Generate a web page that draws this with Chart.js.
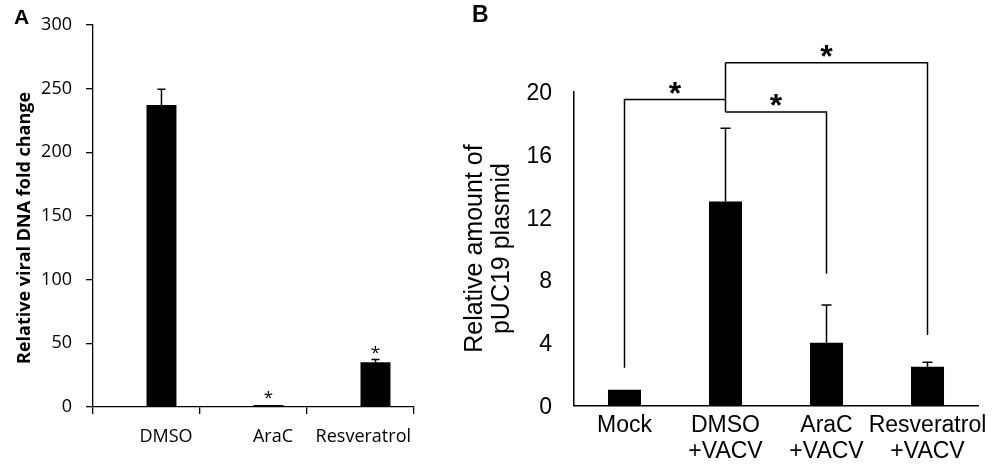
<!DOCTYPE html>
<html>
<head>
<meta charset="utf-8">
<script src="https://cdn.jsdelivr.net/npm/chart.js@4.4.1/dist/chart.umd.min.js"></script>
<style>
html, body { margin: 0; padding: 0; background: #fff; }
#page { position: relative; width: 1000px; height: 469px; overflow: hidden; }
.panel { position: absolute; top: 0; height: 469px; }
#panelA { left: 0; width: 450px; }
#panelB { left: 450px; width: 550px; }
.tag { position: absolute; font-family: 'Liberation Sans', Arial, sans-serif; font-weight: bold; color: #000; line-height: 1; }
</style>
</head>
<body>
<div id="page">
  <div class="panel" id="panelA"><canvas id="chartA"></canvas></div>
  <div class="panel" id="panelB"><canvas id="chartB"></canvas></div>
  <div class="tag" style="left:14px; top:6px; font-size:21px;">A</div>
  <div class="tag" style="left:472px; top:3px; font-size:23px;">B</div>
</div>
<script>
// --- panel A data ---
const treatmentsA = ['DMSO', 'AraC', 'Resveratrol'];
const foldChange = [237, 1.5, 35.2];
const foldChangeErr = [12.4, 0, 2];
const starsA = ['', '*', '*'];
const ticksA = [0, 50, 100, 150, 200, 250, 300];

// --- panel B data ---
const treatmentsB = [['Mock'], ['DMSO', '+VACV'], ['AraC', '+VACV'], ['Resveratrol', '+VACV']];
const plasmid = [1.0, 13.0, 4.0, 2.47];
const plasmidErr = [0, 4.67, 2.4, 0.28];
const ticksB = [0, 4, 8, 12, 16, 20];
// significance brackets (all against DMSO+VACV), in axis units
const brackets = [
  { from: 1, to: 0, level: 19.5, foot: 2.4 },
  { from: 1, to: 2, level: 18.7, foot: 8.4 },
  { from: 1, to: 3, level: 21.85, foot: 4.5 }
];

Chart.defaults.color = '#000';
Chart.defaults.animation = false;

// error bars: line up from the bar top with a cap
const errorBarPlugin = {
  id: 'errorBars',
  afterDatasetsDraw(chart, args, opts) {
    const { ctx } = chart;
    const y = chart.scales.y;
    chart.data.datasets.forEach((ds, di) => {
      if (!ds.errors) return;
      const meta = chart.getDatasetMeta(di);
      meta.data.forEach((bar, i) => {
        const err = ds.errors[i];
        if (!err) return;
        const top = y.getPixelForValue(ds.data[i] + err);
        ctx.save();
        ctx.strokeStyle = '#000';
        ctx.lineWidth = opts.lineWidth;
        ctx.beginPath();
        ctx.moveTo(bar.x, bar.y);
        ctx.lineTo(bar.x, top);
        ctx.moveTo(bar.x - opts.cap / 2, top);
        ctx.lineTo(bar.x + opts.cap / 2, top);
        ctx.stroke();
        ctx.restore();
      });
    });
  }
};

// panel A: category labels sit under the bars, stars, rotated title
const panelAText = {
  id: 'panelAText',
  afterDraw(chart) {
    const { ctx, chartArea } = chart;
    const x = chart.scales.x, y = chart.scales.y;
    const meta = chart.getDatasetMeta(1);
    ctx.save();
    ctx.fillStyle = '#000';
    ctx.font = '18px "Open Sans"';
    ctx.textAlign = 'center';
    ctx.textBaseline = 'middle';
    treatmentsA.forEach((t, i) => {
      const w = ctx.measureText(t).width;
      let cx = x.getPixelForValue(i) + 19.5;
      cx = Math.min(cx, chartArea.right - 3 - w / 2);
      ctx.fillText(t, cx, chartArea.bottom + 30);
    });
    ctx.font = '17px "Open Sans"';
    ctx.textBaseline = 'alphabetic';
    starsA.forEach((s, i) => {
      if (!s) return;
      const top = y.getPixelForValue(foldChange[i] + foldChangeErr[i]);
      ctx.fillText(s, meta.data[i].x, top - 2);
    });
    ctx.font = 'bold 18px "Open Sans"';
    ctx.translate(25, (chartArea.top + chartArea.bottom) / 2 + 12);
    ctx.rotate(-Math.PI / 2);
    ctx.textBaseline = 'middle';
    ctx.fillText('Relative viral DNA fold change', 0, 0);
    ctx.restore();
  }
};

// panel B: brackets with stars above the plot
const bracketPlugin = {
  id: 'brackets',
  afterDraw(chart) {
    const { ctx } = chart;
    const x = chart.scales.x, y = chart.scales.y;
    ctx.save();
    ctx.strokeStyle = '#000';
    ctx.fillStyle = '#000';
    ctx.lineWidth = 1.5;
    ctx.font = 'bold 32px "Liberation Sans"';
    ctx.textAlign = 'center';
    ctx.textBaseline = 'alphabetic';
    brackets.forEach(b => {
      const x1 = x.getPixelForValue(b.from), x2 = x.getPixelForValue(b.to);
      const yl = y.getPixelForValue(b.level), yf = y.getPixelForValue(b.foot);
      ctx.beginPath();
      ctx.moveTo(x1, yl);
      ctx.lineTo(x2, yl);
      ctx.lineTo(x2, yf);
      ctx.stroke();
      ctx.fillText('*', (x1 + x2) / 2, yl + 4);
    });
    const levels = brackets.map(b => b.level);
    const xs = x.getPixelForValue(brackets[0].from);
    ctx.beginPath();
    ctx.moveTo(xs, y.getPixelForValue(Math.min(...levels)));
    ctx.lineTo(xs, y.getPixelForValue(Math.max(...levels)));
    ctx.stroke();
    ctx.restore();
  }
};

new Chart(document.getElementById('chartA'), {
  type: 'bar',
  data: {
    labels: treatmentsA,
    datasets: [
      { label: 'spacer', data: treatmentsA.map(() => null) },
      { label: 'Relative viral DNA fold change', data: foldChange, errors: foldChangeErr, backgroundColor: '#000' }
    ]
  },
  options: {
    responsive: true,
    maintainAspectRatio: false,
    layout: { padding: { left: 0, right: 36, top: 20, bottom: 0 } },
    datasets: { bar: { categoryPercentage: 0.56, barPercentage: 1 } },
    scales: {
      x: {
        grid: { drawOnChartArea: false, drawTicks: true, tickLength: 7, color: '#000', lineWidth: 1.3, offset: true },
        border: { display: true, color: '#000', width: 1.3 },
        ticks: { display: false },
        afterFit: s => { s.height = 62; }
      },
      y: {
        min: 0,
        max: 300,
        afterBuildTicks: s => { s.ticks = ticksA.map(v => ({ value: v })); },
        grid: { drawOnChartArea: false, drawTicks: true, tickLength: 7, color: '#000', lineWidth: 1.3 },
        border: { display: true, color: '#000', width: 1.3 },
        ticks: { font: { family: 'Open Sans', size: 18 }, color: '#000', padding: 14 },
        afterFit: s => { s.width = 93; }
      }
    },
    plugins: {
      legend: { display: false },
      tooltip: { enabled: false },
      errorBars: { lineWidth: 1.5, cap: 8 }
    }
  },
  plugins: [errorBarPlugin, panelAText]
});

new Chart(document.getElementById('chartB'), {
  type: 'bar',
  data: {
    labels: treatmentsB,
    datasets: [
      { label: 'Relative amount of pUC19 plasmid', data: plasmid, errors: plasmidErr, backgroundColor: '#000' }
    ]
  },
  options: {
    responsive: true,
    maintainAspectRatio: false,
    layout: { padding: { left: 0, right: 22, top: 91.7, bottom: 0 } },
    datasets: { bar: { categoryPercentage: 1, barPercentage: 0.327 } },
    scales: {
      x: {
        grid: { display: false, drawTicks: false },
        border: { display: true, color: '#000', width: 1.5 },
        ticks: {
          font: { family: 'Liberation Sans', size: 23, lineHeight: 1.13 },
          color: '#000', padding: 7, maxRotation: 0, autoSkip: false
        },
        afterFit: s => { s.height = 63.5; }
      },
      y: {
        min: 0,
        max: 20,
        afterBuildTicks: s => { s.ticks = ticksB.map(v => ({ value: v })); },
        grid: { display: false, drawTicks: false },
        border: { display: true, color: '#000', width: 1.5 },
        ticks: { font: { family: 'Liberation Sans', size: 23 }, color: '#000', padding: 22, labelOffset: 2 },
        title: {
          display: true,
          text: ['Relative amount of', 'pUC19 plasmid'],
          font: { family: 'Liberation Sans', size: 25, lineHeight: 1.08 },
          color: '#000',
          padding: { top: 11.5, bottom: 0 }
        },
        afterFit: s => { s.width = 124; }
      }
    },
    plugins: {
      legend: { display: false },
      tooltip: { enabled: false },
      errorBars: { lineWidth: 1.5, cap: 10 }
    }
  },
  plugins: [errorBarPlugin, bracketPlugin]
});
</script>
</body>
</html>
